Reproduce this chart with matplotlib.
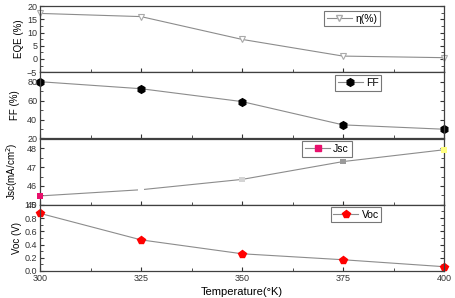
import matplotlib
matplotlib.use('Agg')
import matplotlib.pyplot as plt
from matplotlib.ticker import MultipleLocator
from matplotlib.lines import Line2D
import numpy as np

plt.rcParams['font.family'] = ['Liberation Sans', 'DejaVu Sans']

# data
temps = [300, 325, 350, 375, 400]
eqe = [17.2, 16.0, 7.4, 1.1, 0.5]
ff = [80.0, 72.6, 59.0, 34.4, 29.8]
jsc = [45.47, 45.8, 46.35, 47.3, 47.93]
jsc_colors = ['#e8106c', '#ffffff', '#d4d4d4', '#9a9a9a', '#ffff80']
voc = [0.87, 0.47, 0.26, 0.17, 0.065]

line_c = '#8c8c8c'
fig = plt.figure(figsize=(4.56, 2.98), dpi=100)

left, right = 40 / 456, 444 / 456
top, bottom = 1 - 6 / 298, 1 - 271 / 298
h = (top - bottom) / 4
axes = [fig.add_axes([left, top - (i + 1) * h, right - left, h]) for i in range(4)]

for ax in axes:
    ax.set_xlim(300, 400)
    ax.xaxis.set_major_locator(MultipleLocator(25))
    ax.xaxis.set_minor_locator(MultipleLocator(12.5))
    ax.tick_params(which='both', direction='in', top=False, right=True,
                   labelsize=6.5, colors='#333333', pad=2)
    ax.tick_params(which='major', length=3, width=0.8)
    ax.tick_params(which='minor', length=2, width=0.6)
    for s in ax.spines.values():
        s.set_color('#404040')
        s.set_linewidth(0.9)
    if ax is not axes[-1]:
        ax.tick_params(labelbottom=False)


def add_leg(ax, handle, label, xc, yc):
    leg = fig.legend([handle], [label], loc='center',
                     bbox_to_anchor=(xc / 456, 1 - yc / 298),
                     fontsize=7.5, frameon=True, fancybox=False,
                     handlelength=2.4, handletextpad=0.3, borderpad=0.25,
                     borderaxespad=0)
    leg.get_frame().set_edgecolor('#555555')
    leg.get_frame().set_linewidth(0.8)


# EQE
ax = axes[0]
ax.plot(temps, eqe, color=line_c, lw=0.8, marker='v', ms=5,
        mfc='white', mec='#aaaaaa', mew=0.8, clip_on=False)
ax.set_ylim(-5, 20)
ax.yaxis.set_major_locator(MultipleLocator(5))
ax.yaxis.set_minor_locator(MultipleLocator(2.5))
ax.set_ylabel('EQE (%)', fontsize=7, labelpad=2)
add_leg(ax, Line2D([], [], color=line_c, lw=0.8, marker='v', ms=5,
                   mfc='white', mec='#aaaaaa'), '\u03b7(%)', 352, 18.5)

# FF
ax = axes[1]
ax.plot(temps, ff, color=line_c, lw=0.8, marker='h', ms=5.5,
        mfc='black', mec='black', clip_on=False)
ax.set_ylim(20, 90)
ax.yaxis.set_major_locator(MultipleLocator(20))
ax.yaxis.set_minor_locator(MultipleLocator(10))
ax.set_ylabel('FF (%)', fontsize=7, labelpad=5)
add_leg(ax, Line2D([], [], color=line_c, lw=0.8, marker='h', ms=5.5,
                   mfc='black', mec='black'), 'FF', 358, 83)

# Jsc
ax = axes[2]
ax.plot(temps, jsc, color=line_c, lw=0.8, zorder=1)
ax.scatter(temps, jsc, marker='s', s=16, c=jsc_colors, edgecolors='none',
           zorder=3, clip_on=False)
ax.set_ylim(45, 48.53)
ax.yaxis.set_major_locator(MultipleLocator(1))
ax.yaxis.set_minor_locator(MultipleLocator(0.5))
ax.set_ylabel('Jsc(mA/cm$^2$)', fontsize=7, labelpad=5)
add_leg(ax, Line2D([], [], color=line_c, lw=0.8, marker='s', ms=4.5,
                   mfc='#e8106c', mec='#e8106c'), 'Jsc', 327, 149)

# Voc
ax = axes[3]
ax.plot(temps, voc, color=line_c, lw=0.8, marker='p', ms=6,
        mfc='#ff0000', mec='#ff0000', clip_on=False)
ax.set_ylim(0, 1.0)
ax.yaxis.set_major_locator(MultipleLocator(0.2))
ax.yaxis.set_minor_locator(MultipleLocator(0.1))
ax.set_ylabel('Voc (V)', fontsize=7, labelpad=2)
ax.set_xlabel('Temperature(\u00b0K)', fontsize=8, labelpad=3)
add_leg(ax, Line2D([], [], color=line_c, lw=0.8, marker='p', ms=6,
                   mfc='#ff0000', mec='#ff0000'), 'Voc', 356, 214.5)

fig.align_ylabels(axes)
fig.savefig('out.png', dpi=100)
